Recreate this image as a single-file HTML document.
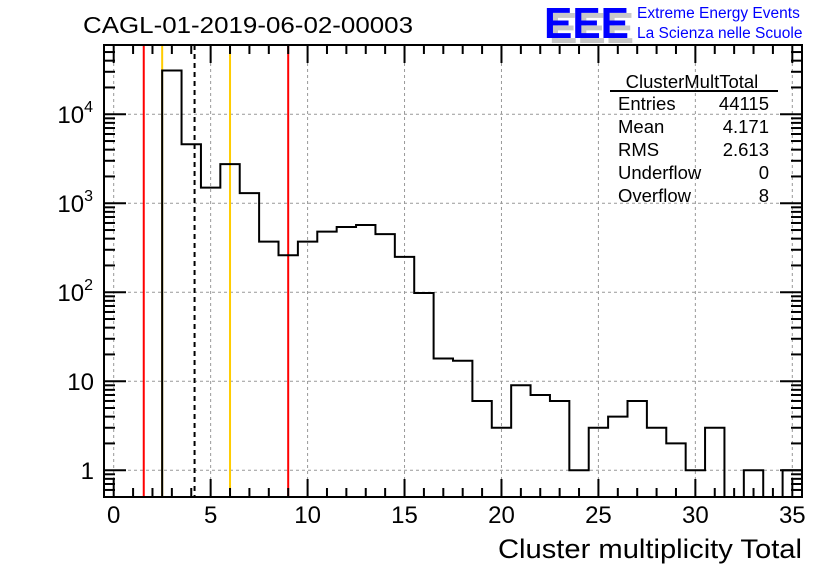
<!DOCTYPE html>
<html><head><meta charset="utf-8"><style>
body{margin:0;background:#fff;}
svg{display:block;font-family:"Liberation Sans",Arial,sans-serif;}
</style></head><body>
<svg id="c" width="836" height="572" viewBox="0 0 836 572">
<text x="83" y="33" font-size="23" fill="#000" textLength="330" lengthAdjust="spacingAndGlyphs">CAGL-01-2019-06-02-00003</text>
<g>
<text x="549" y="43" font-size="44" font-weight="bold" fill="#c8c8c8" textLength="85" lengthAdjust="spacingAndGlyphs">EEE</text>
<text x="544" y="38" font-size="44" font-weight="bold" fill="#0000ff" textLength="85" lengthAdjust="spacingAndGlyphs">EEE</text>
<text x="637" y="18" font-size="15.5" fill="#0000ff">Extreme Energy Events</text>
<text x="637" y="38" font-size="15.5" fill="#0000ff">La Scienza nelle Scuole</text>
</g>
<g id="grid"></g>
<g id="lines"></g>
<path id="hist" fill="none" stroke="#000" stroke-width="2"></path>
<g id="axes"></g>
<g font-size="18.5" fill="#000">
<text x="692" y="88" text-anchor="middle">ClusterMultTotal</text>
<line x1="610" y1="91" x2="778" y2="91" stroke="#000" stroke-width="2"/>
<text x="618" y="110">Entries</text><text x="769" y="110" text-anchor="end">44115</text>
<text x="618" y="133">Mean</text><text x="769" y="133" text-anchor="end">4.171</text>
<text x="618" y="156">RMS</text><text x="769" y="156" text-anchor="end">2.613</text>
<text x="618" y="179">Underflow</text><text x="769" y="179" text-anchor="end">0</text>
<text x="618" y="202">Overflow</text><text x="769" y="202" text-anchor="end">8</text>
</g>
<text x="802" y="558" font-size="27" text-anchor="end" textLength="304" lengthAdjust="spacingAndGlyphs">Cluster multiplicity Total</text>
</svg>
<script>
const binLow = -0.5;
const binWidth = 1;
const counts = [0,0,0,31000,4600,1500,2750,1300,370,260,370,480,540,570,450,250,98,18,17,6,3,9,7,6,1,3,4,6,3,2,1,3,0,1,0,1];
const xTicks = [0,5,10,15,20,25,30,35];
const yTicks = [1,10,100,1000,10000];
const yTickLabels = ["1","10","10^2","10^3","10^4"];
const redLines = [1.55,9.0];
const yellowLines = [2.5,6.0];
const meanLine = [4.171];

const L=104,R=802,T=45,B=497,XMIN=-0.5,XMAX=35.5,YMIN=0.5,YMAX=6e4;
const sx=v=>L+(v-XMIN)/(XMAX-XMIN)*(R-L);
const sy=v=>B-(Math.log10(v)-Math.log10(YMIN))/(Math.log10(YMAX)-Math.log10(YMIN))*(B-T);
const NS="http://www.w3.org/2000/svg";
function mk(tag,attrs,parent){const e=document.createElementNS(NS,tag);for(const k in attrs)e.setAttribute(k,attrs[k]);parent.appendChild(e);return e;}
const grid=document.getElementById('grid'),axes=document.getElementById('axes'),lines=document.getElementById('lines');
xTicks.forEach(v=>{const g=mk('line',{x1:sx(v),x2:sx(v),y1:T,y2:B,stroke:'#999','stroke-dasharray':'3,3'},grid);

});
yTicks.forEach(v=>{const g=mk('line',{x1:L,x2:R,y1:sy(v),y2:sy(v),stroke:'#999','stroke-dasharray':'3,3'},grid);

});
function vline(v,color,dash,name){const e=mk('line',{x1:sx(v),x2:sx(v),y1:T,y2:B,stroke:color,'stroke-width':2},lines);if(dash)e.setAttribute('stroke-dasharray',dash);

}
redLines.forEach(v=>vline(v,'#ff0000',null,'red-cut-line'));
yellowLines.forEach(v=>vline(v,'#ffcc00',null,'yellow-line'));
meanLine.forEach(v=>vline(v,'#000',"5,4",'mean-line'));
let d='',prev=null;
counts.forEach((c,i)=>{const x0=sx(binLow+i*binWidth),x1=sx(binLow+(i+1)*binWidth);
const y=c>0?Math.min(sy(c),B):B;
if(prev===null)d+=`M${x0},${y}`;else d+=`L${x0},${y}`;d+=`L${x1},${y}`;prev=y;});
document.getElementById('hist').setAttribute('d',d);
const f=mk('rect',{x:L,y:T,width:R-L,height:B-T,fill:'none',stroke:'#000','stroke-width':2},axes);


for(let v=0;v<=35;v++){const big=v%5===0,len=big?18:9;
mk('line',{x1:sx(v),x2:sx(v),y1:B,y2:B-len,stroke:'#000','stroke-width':2},axes);
mk('line',{x1:sx(v),x2:sx(v),y1:T,y2:T+len,stroke:'#000','stroke-width':2},axes);}
xTicks.forEach(v=>{const t=mk('text',{x:sx(v),y:B+26,'font-size':24,'text-anchor':'middle'},axes);t.textContent=v;

});
for(let e=-1;e<=4;e++){for(let m=1;m<=9;m++){const v=m*Math.pow(10,e);if(v<YMIN||v>YMAX)continue;const len=m===1?22:11;
mk('line',{x1:L,x2:L+len,y1:sy(v),y2:sy(v),stroke:'#000','stroke-width':2},axes);
mk('line',{x1:R,x2:R-len,y1:sy(v),y2:sy(v),stroke:'#000','stroke-width':2},axes);}}
yTicks.forEach((v,i)=>{const lab=yTickLabels[i];const t=mk('text',{x:L-10,y:sy(v)+9,'font-size':24,'text-anchor':'end'},axes);
if(lab.indexOf('^')>0){const p=lab.split('^');t.textContent=p[0];const s=mk('tspan',{dy:-11,'font-size':16},t);s.textContent=p[1];t.setAttribute('x',L-11);}
else t.textContent=lab;

});
</script>
</body></html>
